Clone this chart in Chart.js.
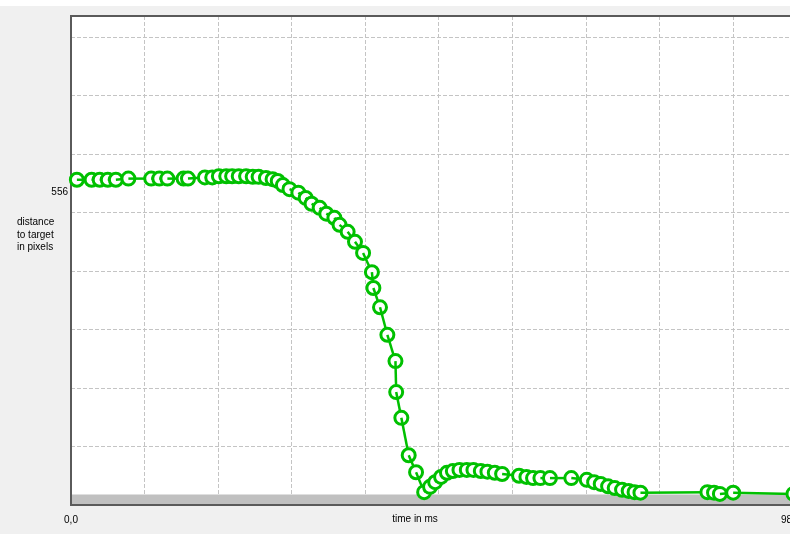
<!DOCTYPE html>
<html>
<head>
<meta charset="utf-8">
<script src="https://cdn.jsdelivr.net/npm/chart.js@4.4.1/dist/chart.umd.min.js"></script>
<style>
  html, body { margin: 0; padding: 0; overflow: hidden; background: #f0f0f0; }
  #wrap { position: absolute; left: 0; top: 0; width: 815px; height: 534px; }
  #topStrip { position: absolute; left: 0; top: 0; width: 790px; height: 6px; background: #fff; }
</style>
</head>
<body>
<div id="wrap"><canvas id="chart"></canvas></div>
<div id="topStrip"></div>
<script>
// trace of the cursor: time (ms) and distance to target (px)
const timeMs = [
  8, 28, 39, 50, 61, 78, 109, 120, 131, 153, 159, 182, 192, 201, 211, 219, 228, 238, 247, 255,
  265, 274, 281, 288, 297, 309, 319, 327, 338, 347, 358, 365, 376, 386, 397, 409, 411, 420, 430, 441,
  442, 449, 459, 469, 480, 488, 495, 503, 511, 519, 528, 538, 547, 557, 566, 576, 586, 609, 619, 628,
  638, 651, 680, 701, 711, 720, 730, 739, 749, 758, 766, 774, 865, 874, 882, 900, 982
];
const distancePx = [
  556, 556, 556, 556, 556, 558, 558, 558, 558, 558, 558, 560, 560, 562, 562, 562, 562, 562, 561, 561,
  559, 557, 554, 547, 540, 534, 525, 515, 508, 498, 491, 479, 467, 450, 431, 398, 371, 338, 291, 246,
  193, 149, 85, 56, 22, 31, 39, 48, 55, 58, 60, 60, 60, 58, 57, 55, 53, 50, 48, 46,
  46, 46, 46, 43, 39, 36, 32, 29, 26, 24, 22, 21, 22, 21, 19, 21, 19
];

// target zone drawn as grey band along the bottom
const targetX = [0, 982];
const targetSize = [18, 18];

// axes
const xMax = 982;
const xGrid = [0, 100, 200, 300, 400, 500, 600, 700, 800, 900, 982];
const xLabelTicks = [0, 982];
const xLabelTexts = ['0,0', '982,0'];
const yMax = 836;
const yGrid = [0, 100, 200, 300, 400, 500, 600, 700, 800];
const yLabelTicks = [556];
const yLabelTexts = ['556'];

const yTitle = ['distance', 'to target', 'in pixels'];
const xTitle = 'time in ms';

Chart.defaults.font.family = '"Liberation Sans", Arial, sans-serif';
Chart.defaults.font.size = 10;
Chart.defaults.color = '#000';

const GREEN = '#00c000';
const GRID = '#c4c4c4';
const FRAME = '#5a5a5a';

const plotBg = {
  id: 'plotBg',
  beforeDraw(chart) {
    const { ctx, chartArea: a } = chart;
    ctx.save();
    ctx.fillStyle = '#fff';
    ctx.fillRect(a.left, a.top, a.right - a.left, a.bottom - a.top);
    ctx.restore();
  },
  // trace: each marker is drawn, then the segment to the next one,
  // so the next marker covers the end of that segment
  beforeDatasetDraw(chart, args) {
    if (args.index !== 0) return;
    const { ctx, chartArea } = chart;
    const pts = args.meta.data;
    ctx.save();
    pts.forEach((p, i) => {
      p.draw(ctx, chartArea);
      const n = pts[i + 1];
      if (!n) return;
      ctx.strokeStyle = GREEN;
      ctx.lineWidth = 2.5;
      ctx.setLineDash([]);
      ctx.beginPath();
      ctx.moveTo(p.x, p.y);
      ctx.lineTo(n.x, n.y);
      ctx.stroke();
    });
    ctx.restore();
    return false;
  },
  // frame goes over the grey band but under the trace
  afterDatasetDraw(chart, args) {
    if (args.index !== 1) return;
    const { ctx, chartArea: a } = chart;
    ctx.save();
    ctx.strokeStyle = FRAME;
    ctx.lineWidth = 2;
    ctx.beginPath();
    ctx.moveTo(a.right + 20, a.top);
    ctx.lineTo(a.left, a.top);
    ctx.lineTo(a.left, a.bottom);
    ctx.lineTo(a.right + 20, a.bottom);
    ctx.stroke();
    ctx.restore();
  },
  afterDraw(chart) {
    const { ctx } = chart;
    ctx.save();
    ctx.fillStyle = '#000';
    ctx.font = Chart.defaults.font.size + 'px ' + Chart.defaults.font.family;
    ctx.textBaseline = 'middle';
    ctx.textAlign = 'left';
    yTitle.forEach((t, i) => ctx.fillText(t, 17, 222.5 + i * 12.5));
    ctx.textAlign = 'center';
    ctx.fillText(xTitle, 415, 519.5);
    ctx.restore();
  }
};

new Chart(document.getElementById('chart'), {
  type: 'line',
  data: {
    datasets: [
      {
        data: timeMs.map((t, i) => ({ x: t, y: distancePx[i] })),
        borderColor: GREEN,
        borderWidth: 2.5,
        showLine: false,
        pointRadius: 6.5,
        pointBorderWidth: 3,
        pointBorderColor: GREEN,
        pointBackgroundColor: '#fff',
        fill: false
      },
      {
        data: targetX.map((t, i) => ({ x: t, y: targetSize[i] })),
        borderWidth: 0,
        pointRadius: 0,
        backgroundColor: '#c0c0c0',
        fill: 'origin'
      }
    ]
  },
  options: {
    responsive: true,
    maintainAspectRatio: false,
    animation: false,
    events: [],
    layout: { padding: { left: 0, top: 16, right: 17, bottom: 0 } },
    plugins: { legend: { display: false }, tooltip: { enabled: false } },
    scales: {
      x: {
        type: 'linear',
        min: 0,
        max: xMax,
        afterBuildTicks(scale) { scale.ticks = xGrid.map(v => ({ value: v })); },
        afterFit(scale) { scale.height = 29; },
        border: { display: false, dash: [4, 2] },
        grid: {
          drawTicks: false,
          lineWidth: 1,
          color: c => (c.tick && c.tick.value > 0 && c.tick.value < xMax) ? GRID : 'rgba(0,0,0,0)'
        },
        ticks: {
          autoSkip: false,
          maxRotation: 0,
          padding: 9,
          callback: v => {
            const k = xLabelTicks.indexOf(v);
            return k >= 0 ? xLabelTexts[k] : '';
          }
        }
      },
      y: {
        type: 'linear',
        min: 0,
        max: yMax,
        afterBuildTicks(scale) {
          scale.ticks = yGrid.concat(yLabelTicks).map(v => ({ value: v }));
        },
        afterFit(scale) { scale.width = 71; },
        border: { display: false, dash: [4, 2] },
        grid: {
          drawTicks: false,
          lineWidth: 1,
          color: c => (c.tick && c.tick.value > 0 && yGrid.includes(c.tick.value)) ? GRID : 'rgba(0,0,0,0)'
        },
        ticks: {
          autoSkip: false,
          padding: 3,
          labelOffset: 12,
          callback: v => {
            const k = yLabelTicks.indexOf(v);
            return k >= 0 ? yLabelTexts[k] : '';
          }
        }
      }
    }
  },
  plugins: [plotBg]
});
</script>
</body>
</html>
